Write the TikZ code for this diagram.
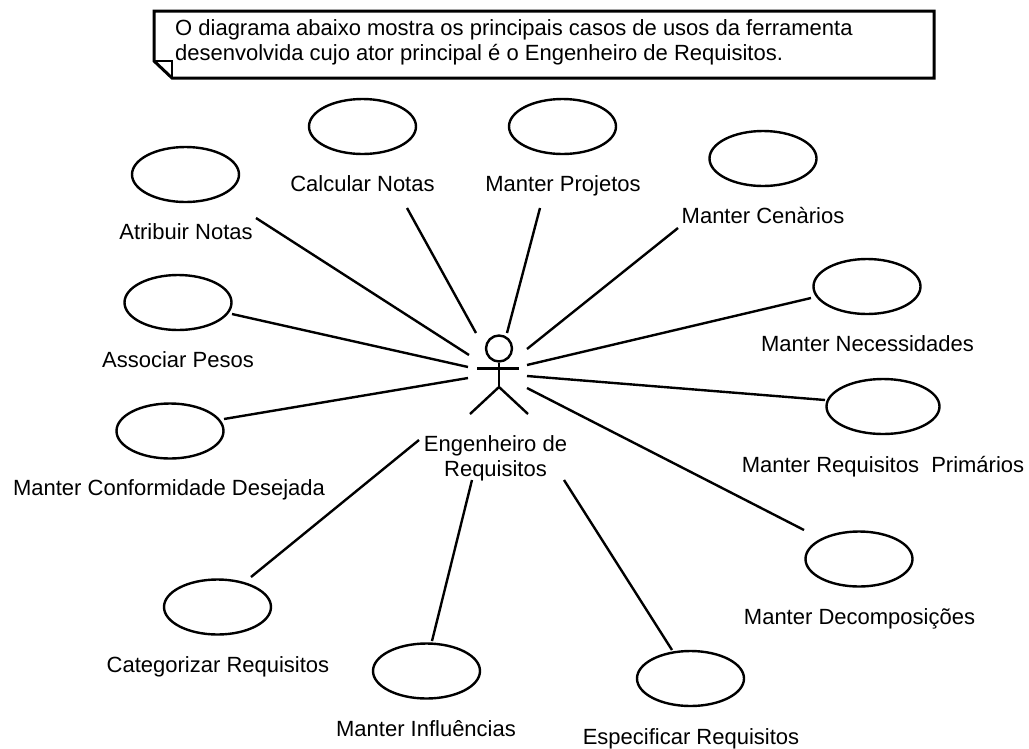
\documentclass[tikz,border=0pt]{standalone}
\usepackage{fontspec}
\usetikzlibrary{shapes.geometric}
\setmainfont{Liberation Sans}
\begin{document}
\begin{tikzpicture}[x=1pt,y=-1pt,
  line/.style={line width=2.4pt,black},
  usecase/.style={draw,line width=2.4pt,ellipse,minimum width=107pt,minimum height=55pt,inner sep=0pt},
  lbl/.style={font=\fontsize{22}{25}\selectfont,anchor=base,align=center,inner sep=0pt,text=black}]
\useasboundingbox (0,0) rectangle (1029,748);
\fill[white] (0,0) rectangle (1029,748);
% note
\draw[line width=3pt,line join=miter] (154,11) -- (934,11) -- (934,78) -- (172,78) -- (154,61) -- cycle;
\draw[line] (154,61) -- (172,61) -- (172,78);
\node[lbl,align=left,anchor=base west] (note1) at (175,35) {O diagrama abaixo mostra os principais casos de usos da ferramenta};
\node[lbl,align=left,anchor=base west] (note2) at (175,60) {desenvolvida cujo ator principal é o Engenheiro de Requisitos.};
% actor
\node[draw,line width=2.4pt,circle,minimum size=26pt,inner sep=0pt] (head) at (499,348.5) {};
\coordinate (hip) at (499,387);
\coordinate (armL) at (477,368.5);
\coordinate (armR) at (519,368.5);
\coordinate (legL) at (470,414);
\coordinate (legR) at (528,414);
\draw[line] (head.south) -- (hip);
\draw[line] (armL) -- (armR);
\draw[line] (legL) -- (hip) -- (legR);
\node[lbl] (actor1) at (495.5,451) {Engenheiro de};
\node[lbl] (actor2) at (495.5,476) {Requisitos};
% use cases
\node[usecase] (uA) at (185.5,174.5) {};
\node[usecase] (uB) at (362.5,126.5) {};
\node[usecase] (uC) at (562.5,126.5) {};
\node[usecase] (uD) at (763,158.5) {};
\node[usecase] (uE) at (867,286.5) {};
\node[usecase,minimum width=113pt] (uF) at (883,406.5) {};
\node[usecase] (uG) at (859,559) {};
\node[usecase] (uH) at (690.5,678.5) {};
\node[usecase] (uI) at (426.5,671) {};
\node[usecase] (uJ) at (217.5,607) {};
\node[usecase] (uK) at (170,431) {};
\node[usecase] (uL) at (178,302.5) {};
% labels
\node[lbl] (tA) at (186,239) {Atribuir Notas};
\node[lbl] (tB) at (362.5,191) {Calcular Notas};
\node[lbl] (tC) at (563,191) {Manter Projetos};
\node[lbl] (tD) at (763,223) {Manter Cenàrios};
\node[lbl] (tE) at (867.5,351) {Manter Necessidades};
\node[lbl] (tF) at (883,472) {Manter Requisitos\ \ Primários};
\node[lbl] (tG) at (859.5,624) {Manter Decomposições};
\node[lbl] (tH) at (691,744) {Especificar Requisitos};
\node[lbl] (tI) at (426,736) {Manter Influências};
\node[lbl] (tJ) at (218,672) {Categorizar Requisitos};
\node[lbl] (tK) at (169,495) {Manter Conformidade Desejada};
\node[lbl] (tL) at (178,367) {Associar Pesos};
% connector ends
\coordinate (a1) at (256,218); \coordinate (b1) at (469,355);
\coordinate (a2) at (407,208); \coordinate (b2) at (476,333);
\coordinate (a3) at (540,208); \coordinate (b3) at (507,333);
\coordinate (a4) at (678,228); \coordinate (b4) at (527,349);
\coordinate (a5) at (811,298); \coordinate (b5) at (527,365);
\coordinate (a6) at (825,400); \coordinate (b6) at (527,376);
\coordinate (a7) at (804,530); \coordinate (b7) at (527,388);
\coordinate (a8) at (672,650); \coordinate (b8) at (564,480);
\coordinate (a9) at (432,641); \coordinate (b9) at (472,480);
\coordinate (a10) at (251,577); \coordinate (b10) at (419,440);
\coordinate (a11) at (224,419); \coordinate (b11) at (468,378);
\coordinate (a12) at (232,314); \coordinate (b12) at (468,367);
\foreach \i in {1,...,12}{\draw[line] (a\i) -- (b\i);}
\end{tikzpicture}
\end{document}
